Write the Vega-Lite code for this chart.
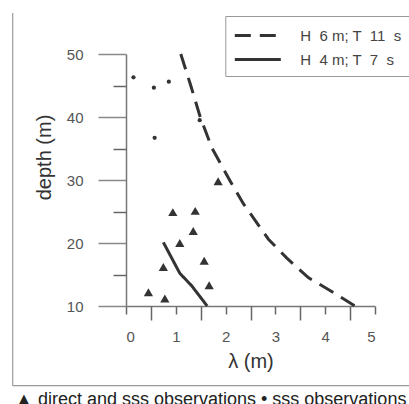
{
  "$schema": "https://vega.github.io/schema/vega-lite/v6.json",
  "width": 249,
  "height": 252,
  "autosize": {"type": "none"},
  "padding": {"left": 126, "top": 54, "right": 34, "bottom": 98},
  "background": "white",
  "config": {
    "view": {"stroke": null},
    "font": "Liberation Sans"
  },
  "title": {
    "text": "▲ direct and sss observations • sss observations",
    "orient": "bottom",
    "anchor": "start",
    "frame": "bounds",
    "fontSize": 18,
    "fontWeight": "normal",
    "font": "Liberation Sans",
    "color": "#222",
    "offset": 5,
    "dx": 3
  },
  "resolve": {"scale": {"x": "independent", "y": "independent"}},
  "layer": [
    {
      "encoding": {
        "x": {
          "field": "lam",
          "type": "quantitative",
          "scale": {"domain": [0, 5], "nice": false, "zero": false},
          "axis": {
            "orient": "bottom",
            "title": "λ (m)",
            "values": [0, 1, 2, 3, 4, 5],
            "format": "d",
            "tickSize": 8,
            "tickWidth": 1.5,
            "domainWidth": 1.5,
            "grid": false,
            "domainColor": "#777",
            "tickColor": "#666",
            "labelColor": "#555",
            "labelFontSize": 15,
            "labelFont": "Liberation Sans",
            "labelPadding": 15,
            "titleFontSize": 20,
            "titleFontWeight": "normal",
            "titleFont": "Liberation Sans",
            "titleColor": "#333",
            "titlePadding": 7
          }
        },
        "y": {
          "field": "depth",
          "type": "quantitative",
          "scale": {"domain": [10, 50], "nice": false, "zero": false},
          "axis": {
            "orient": "left",
            "title": "depth (m)",
            "values": [10, 20, 30, 40, 50],
            "tickSize": 28,
            "tickWidth": 1.5,
            "domainWidth": 1.5,
            "grid": false,
            "domainColor": "#777",
            "tickColor": "#888",
            "labelColor": "#555",
            "labelFontSize": 15,
            "labelFont": "Liberation Sans",
            "labelPadding": 15,
            "titleFontSize": 20,
            "titleFontWeight": "normal",
            "titleFont": "Liberation Sans",
            "titleColor": "#333",
            "titleX": -72,
            "titleY": 103
          }
        }
      },
      "layer": [
        {
          "data": {"values": [
            {"lam": -2.275, "lam2": -2.275, "depth": 56.5, "depth2": -2.65},
            {"lam": -2.275, "lam2": 6.5, "depth": -2.65, "depth2": -2.65}
          ]},
          "mark": {"type": "rule", "color": "#999", "strokeWidth": 1.2},
          "encoding": {
            "x2": {"field": "lam2"},
            "y2": {"field": "depth2"}
          }
        },
        {
          "data": {"values": [
            {"series": "H \u00a06 m; T \u00a011 \u00a0s", "depth": 50, "lam": 1.10},
            {"series": "H \u00a06 m; T \u00a011 \u00a0s", "depth": 45, "lam": 1.30},
            {"series": "H \u00a06 m; T \u00a011 \u00a0s", "depth": 40, "lam": 1.49},
            {"series": "H \u00a06 m; T \u00a011 \u00a0s", "depth": 35, "lam": 1.73},
            {"series": "H \u00a06 m; T \u00a011 \u00a0s", "depth": 30, "lam": 2.08},
            {"series": "H \u00a06 m; T \u00a011 \u00a0s", "depth": 26.2, "lam": 2.36},
            {"series": "H \u00a06 m; T \u00a011 \u00a0s", "depth": 20.6, "lam": 2.86},
            {"series": "H \u00a06 m; T \u00a011 \u00a0s", "depth": 17.6, "lam": 3.23},
            {"series": "H \u00a06 m; T \u00a011 \u00a0s", "depth": 14.5, "lam": 3.66},
            {"series": "H \u00a06 m; T \u00a011 \u00a0s", "depth": 12.3, "lam": 4.13},
            {"series": "H \u00a06 m; T \u00a011 \u00a0s", "depth": 10, "lam": 4.60},
            {"series": "H \u00a04 m; T \u00a07 \u00a0s", "depth": 20.1, "lam": 0.75},
            {"series": "H \u00a04 m; T \u00a07 \u00a0s", "depth": 15.2, "lam": 1.08},
            {"series": "H \u00a04 m; T \u00a07 \u00a0s", "depth": 13.2, "lam": 1.32},
            {"series": "H \u00a04 m; T \u00a07 \u00a0s", "depth": 10, "lam": 1.63}
          ]},
          "mark": {"type": "line", "strokeWidth": 3, "color": "#333"},
          "encoding": {
            "strokeDash": {
              "field": "series",
              "type": "nominal",
              "scale": {
                "domain": ["H \u00a06 m; T \u00a011 \u00a0s", "H \u00a04 m; T \u00a07 \u00a0s"],
                "range": [[16, 9], [1, 0]]
              },
              "legend": {
                "title": null,
                "orient": "none",
                "legendX": 99.3,
                "legendY": -38,
                "symbolType": "M-1,0H3.6",
                "symbolSize": 400,
                "symbolStrokeWidth": 3,
                "symbolStrokeColor": "#333",
                "labelFontSize": 15,
                "labelFont": "Liberation Sans",
                "labelColor": "#444",
                "labelOffset": 44,
                "rowPadding": 4,
                "padding": 8,
                "strokeColor": "#999",
                "fillColor": "white"
              }
            }
          }
        },
        {
          "data": {"values": [
            {"kind": "sss", "lam": 0.15, "depth": 46.3},
            {"kind": "sss", "lam": 0.56, "depth": 44.65},
            {"kind": "sss", "lam": 0.86, "depth": 45.6},
            {"kind": "sss", "lam": 0.575, "depth": 36.7},
            {"kind": "sss", "lam": 1.48, "depth": 39.5},
            {"kind": "direct", "lam": 1.85, "depth": 29.8},
            {"kind": "direct", "lam": 0.94, "depth": 24.9},
            {"kind": "direct", "lam": 1.39, "depth": 25.1},
            {"kind": "direct", "lam": 1.35, "depth": 21.9},
            {"kind": "direct", "lam": 1.08, "depth": 20.0},
            {"kind": "direct", "lam": 0.75, "depth": 16.2},
            {"kind": "direct", "lam": 1.57, "depth": 17.2},
            {"kind": "direct", "lam": 1.67, "depth": 13.3},
            {"kind": "direct", "lam": 0.45, "depth": 12.2},
            {"kind": "direct", "lam": 0.78, "depth": 11.2}
          ]},
          "mark": {"type": "point", "filled": true, "opacity": 1, "color": "#333"},
          "encoding": {
            "shape": {
              "field": "kind",
              "type": "nominal",
              "scale": {"domain": ["direct", "sss"], "range": ["triangle-up", "circle"]},
              "legend": null
            },
            "size": {
              "field": "kind",
              "type": "nominal",
              "scale": {"domain": ["direct", "sss"], "range": [85, 18]},
              "legend": null
            }
          }
        }
      ]
    },
    {
      "data": {"values": [
        {"lam": 0.5, "depth": 15},
        {"lam": 1.5, "depth": 25}
      ]},
      "mark": {"type": "point", "opacity": 0},
      "encoding": {
        "x": {
          "field": "lam",
          "type": "quantitative",
          "scale": {"domain": [0, 5], "nice": false, "zero": false},
          "axis": {
            "orient": "bottom",
            "title": null,
            "values": [0.5, 1.5, 2.5, 3.5, 4.5],
            "labels": false,
            "domain": false,
            "grid": false,
            "tickSize": 14,
            "tickWidth": 1.5,
            "tickColor": "#666"
          }
        },
        "y": {
          "field": "depth",
          "type": "quantitative",
          "scale": {"domain": [10, 50], "nice": false, "zero": false},
          "axis": {
            "orient": "left",
            "title": null,
            "values": [15, 25, 35, 45],
            "labels": false,
            "domain": false,
            "grid": false,
            "tickSize": 13,
            "tickWidth": 1.5,
            "tickColor": "#666"
          }
        }
      }
    }
  ]
}
